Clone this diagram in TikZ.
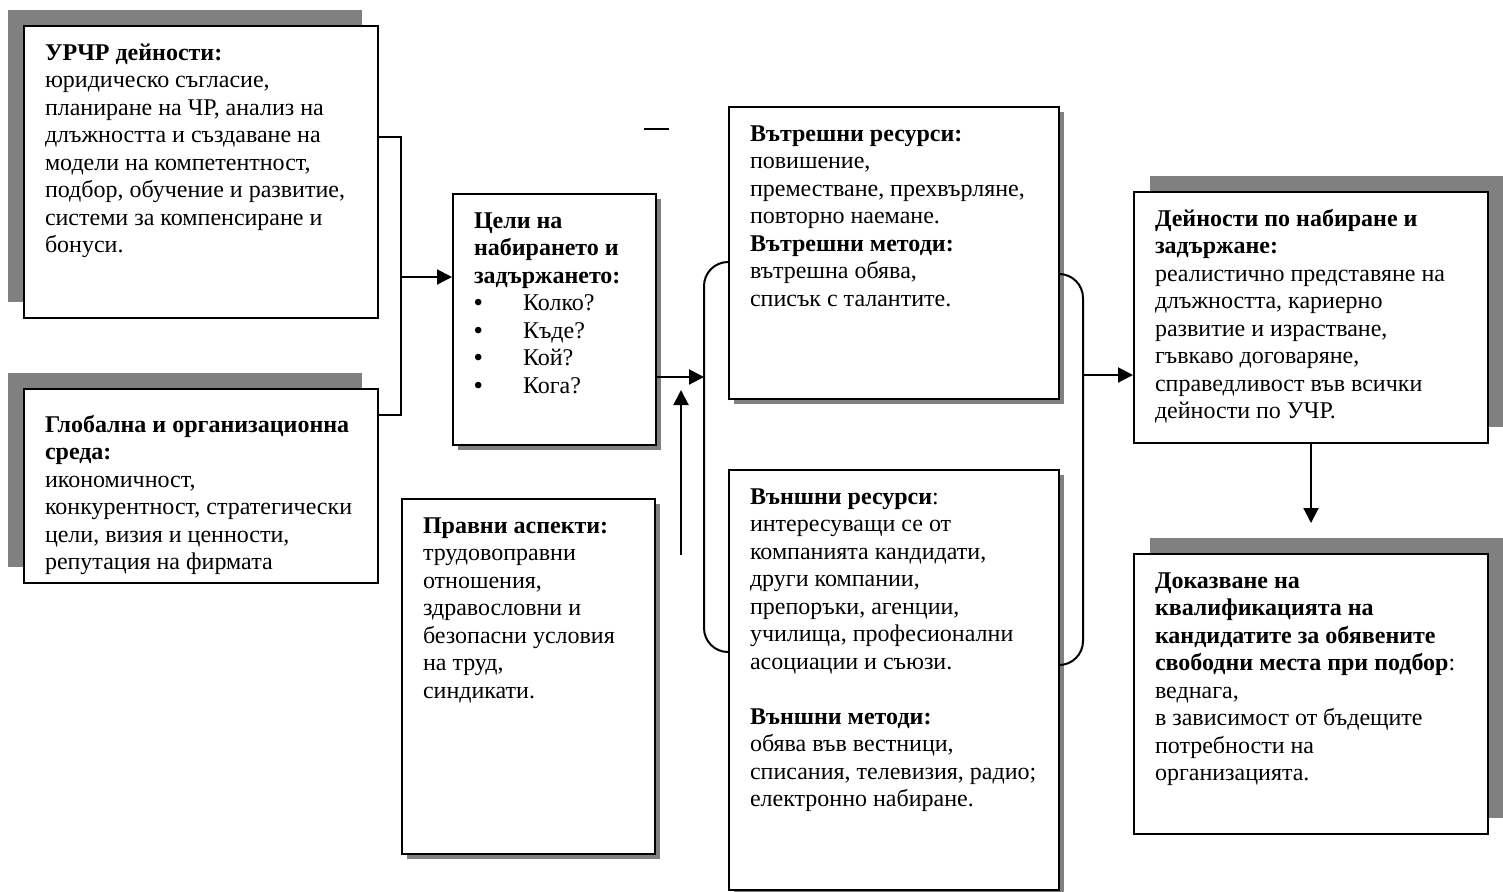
\documentclass[tikz,border=0pt]{standalone}
\usepackage{fontspec}
\setmainfont{Liberation Serif}
\usepackage{tikz}
\usepackage{xcolor}
\usetikzlibrary{arrows.meta, positioning, shadows}
\definecolor{shadowgray}{RGB}{128, 128, 128}
\tikzstyle{infobox} = [rectangle, draw=black, fill=white, line width=1pt, inner xsep=10.5pt, inner ysep=7.5pt, anchor=north west, font=\fontsize{12}{13.75}\selectfont]
\tikzstyle{shadowleft} = [drop shadow={shadow xshift=-8pt, shadow yshift=8pt, fill=shadowgray, opacity=1}]
\tikzstyle{shadowright} = [drop shadow={shadow xshift=8pt, shadow yshift=8pt, fill=shadowgray, opacity=1}]
\tikzstyle{shadowsmall} = [drop shadow={shadow xshift=2.5pt, shadow yshift=-2.5pt, fill=shadowgray, opacity=1}]
\tikzstyle{link} = [line width=1pt]
\tikzstyle{arrow} = [line width=1pt, -{Triangle[length=7.5pt, width=7.5pt]}]
\newcommand{\boxtxt}[3]{\parbox[c][#2][t]{#1}{\begin{tabular}[t]{@{}l@{}}#3\end{tabular}}}
\newcommand{\itembullet}{\makebox[24.5pt][l]{\textbf{\textbullet}}}

\begin{document}
\begin{tikzpicture}[x=0.5pt, y=-0.5pt]
        \useasboundingbox (0,0) rectangle (1503,891);

        % Inputs
        \node[infobox, shadowleft] (urchr) at (23,25) {\boxtxt{156pt}{131pt}{\textbf{УРЧР дейности:}\\ юридическо съгласие,\\ планиране на ЧР, анализ на\\ длъжността и създаване на\\ модели на компетентност,\\ подбор, обучение и развитие,\\ системи за компенсиране и\\ бонуси.}};
        \node[infobox, shadowleft, inner ysep=12pt] (sreda) at (23,388) {\boxtxt{156pt}{73pt}{\textbf{Глобална и организационна}\\ \textbf{среда:}\\ икономичност,\\ конкурентност, стратегически\\ цели, визия и ценности,\\ репутация на фирмата}};

        % Goals and legal side
        \node[infobox, shadowsmall] (celi) at (452,193) {\boxtxt{80.5pt}{110.5pt}{\textbf{Цели на}\\ \textbf{набирането и}\\ \textbf{задържането:}\\ \itembullet Колко?\\ \itembullet Къде?\\ \itembullet Кой?\\ \itembullet Кога?}};
        \node[infobox, shadowsmall] (pravni) at (401,498) {\boxtxt{105.5pt}{162.5pt}{\textbf{Правни аспекти:}\\ трудовоправни\\ отношения,\\ здравословни и\\ безопасни условия\\ на труд,\\ синдикати.}};

        % Sources
        \node[infobox, shadowsmall] (vatr) at (728,106) {\boxtxt{144pt}{131pt}{\textbf{Вътрешни ресурси:}\\ повишение,\\ преместване, прехвърляне,\\ повторно наемане.\\ \textbf{Вътрешни методи:}\\ вътрешна обява,\\ списък с талантите.}};
        \node[infobox, shadowsmall] (vanshni) at (728,469) {\boxtxt{144pt}{195pt}{\textbf{Външни ресурси}:\\ интересуващи се от\\ компанията кандидати,\\ други компании,\\ препоръки, агенции,\\ училища,  професионални\\ асоциации и съюзи.\\ \\ \textbf{Външни методи:}\\ обява във вестници,\\ списания, телевизия, радио;\\ електронно набиране.}};

        % Results
        \node[infobox, shadowright] (deinosti) at (1133,191) {\boxtxt{156pt}{110.5pt}{\textbf{Дейности по набиране и}\\ \textbf{задържане:}\\ реалистично представяне на\\ длъжността, кариерно\\ развитие и израстване,\\ гъвкаво договаряне,\\ справедливост във всички\\ дейности по УЧР.}};
        \node[infobox, shadowright] (dokaz) at (1133,553) {\boxtxt{156pt}{125pt}{\textbf{Доказване на}\\ \textbf{квалификацията на}\\ \textbf{кандидатите за обявените}\\ \textbf{свободни места при подбор}:\\ веднага,\\ в зависимост от бъдещите\\ потребности на\\ организацията.}};

        % Join points
        \coordinate (join) at (401,277);
        \coordinate (lbr) at (704,377);
        \coordinate (rbr) at (1083,375);
        \coordinate (pravastart) at (681,555);
        \coordinate (pravaend) at (681,390);

        % Connections
        \draw[link] ([yshift=-56pt]urchr.north east) -| (join) |- ([yshift=-13.5pt]sreda.north east);
        \draw[arrow] (join) -- (celi.west |- join);
        \draw[arrow] (celi.east |- lbr) -- (lbr);
        \draw[arrow] (pravastart) -- (pravaend);
        \draw[link, rounded corners=12pt] ([yshift=-78pt]vatr.north west) -| (lbr) |- ([yshift=-91.5pt]vanshni.north west);
        \draw[link, rounded corners=12pt] ([yshift=-84pt]vatr.north east) -| (rbr) |- ([yshift=-98pt]vanshni.north east);
        \draw[arrow] (rbr) -- (deinosti.west |- rbr);
        \draw[arrow] (deinosti.south) -- ([yshift=15pt]dokaz.north);

        % Stray dash
        \draw[link] (644,129) -- (669,129);
    \end{tikzpicture}
\end{document}
